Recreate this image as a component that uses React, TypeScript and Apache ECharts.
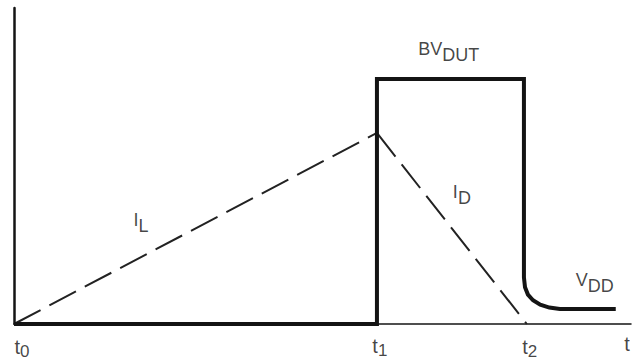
import React, { useEffect, useRef } from "react";
import * as echarts from "echarts";

// Time axis: t0 = 0, t1 = 1, t2 ≈ 1.413 (relative units)
const xMax = 1.7;
const yMax = 1.29;

// Device voltage (BV_DUT pulse, then settling to V_DD)
const voltageCurve: [number, number][] = [
  [0, 0],
  [1, 0],
  [1, 1],
  [1.405, 1],
  [1.405, 0.19],
  [1.408, 0.15],
  [1.416, 0.12],
  [1.43, 0.097],
  [1.45, 0.079],
  [1.475, 0.067],
  [1.504, 0.061],
  [1.658, 0.061],
];

// Inductor current ramp (dashed)
const inductorCurrent: [number, number][] = [
  [0, 0],
  [1, 0.78],
];

// Drain current decay (dashed)
const drainCurrent: [number, number][] = [
  [1, 0.78],
  [1.413, 0],
];

// Text annotations
const labelTexts = [
  "{m|t}{s|0}",
  "{m|t}{s|1}",
  "{m|t}{s|2}",
  "{m|t}",
  "{a|BV}{b|DUT}",
  "{a|V}{b|DD}",
  "{a|I}{b|L}",
  "{a|I}{b|D}",
];
const labelAnchors: [number, number][] = [
  [0.022, -0.098],
  [1.008, -0.094],
  [1.421, -0.098],
  [1.689, -0.08],
  [1.198, 1.11],
  [1.6, 0.167],
  [0.35, 0.412],
  [1.234, 0.527],
];

const FONT = "'Liberation Sans', Arial, Helvetica, sans-serif";
const INK = "#141414";

export default function App() {
  const ref = useRef<HTMLDivElement>(null);

  useEffect(() => {
    if (!ref.current) return;
    const chart = echarts.init(ref.current, undefined, { renderer: "svg" });
    const labelData = labelAnchors.map((p, i) => ({
      value: p,
      label: { formatter: labelTexts[i] },
    }));
    chart.setOption({
      animation: false,
      backgroundColor: "#ffffff",
      grid: { left: 14, right: 4, top: 8, bottom: 40 },
      xAxis: {
        type: "value",
        min: 0,
        max: xMax,
        axisLine: { show: true, lineStyle: { color: INK, width: 1.5 } },
        axisTick: { show: false },
        axisLabel: { show: false },
        splitLine: { show: false },
      },
      yAxis: {
        type: "value",
        min: 0,
        max: yMax,
        axisLine: { show: true, lineStyle: { color: INK, width: 2.5 } },
        axisTick: { show: false },
        axisLabel: { show: false },
        splitLine: { show: false },
      },
      series: [
        {
          type: "line",
          data: inductorCurrent,
          symbol: "none",
          clip: false,
          lineStyle: { color: "#222", width: 2, type: [30, 10] },
        },
        {
          type: "line",
          data: drainCurrent,
          symbol: "none",
          clip: false,
          lineStyle: { color: "#222", width: 2, type: [30, 10] },
        },
        {
          type: "line",
          data: voltageCurve,
          symbol: "none",
          clip: false,
          lineStyle: { color: INK, width: 4, join: "miter" },
        },
        {
          type: "scatter",
          data: labelData,
          symbolSize: 0,
          clip: false,
          silent: true,
          label: {
            show: true,
            position: "inside",
            color: INK,
            fontFamily: FONT,
            rich: {
              m: { fontSize: 20, color: INK, fontFamily: FONT, verticalAlign: "top" },
              s: {
                fontSize: 17,
                color: INK,
                fontFamily: FONT,
                verticalAlign: "bottom",
                padding: [6, 0, 0, 0],
              },
              a: { fontSize: 18, color: INK, fontFamily: FONT, verticalAlign: "top" },
              b: {
                fontSize: 18,
                color: INK,
                fontFamily: FONT,
                verticalAlign: "bottom",
                padding: [6, 0, 0, 0],
              },
            },
          },
        },
      ],
    });
    return () => chart.dispose();
  }, []);

  return (
    <div
      ref={ref}
      style={{ position: "absolute", left: 0, top: 0, width: 635, height: 364 }}
    />
  );
}
